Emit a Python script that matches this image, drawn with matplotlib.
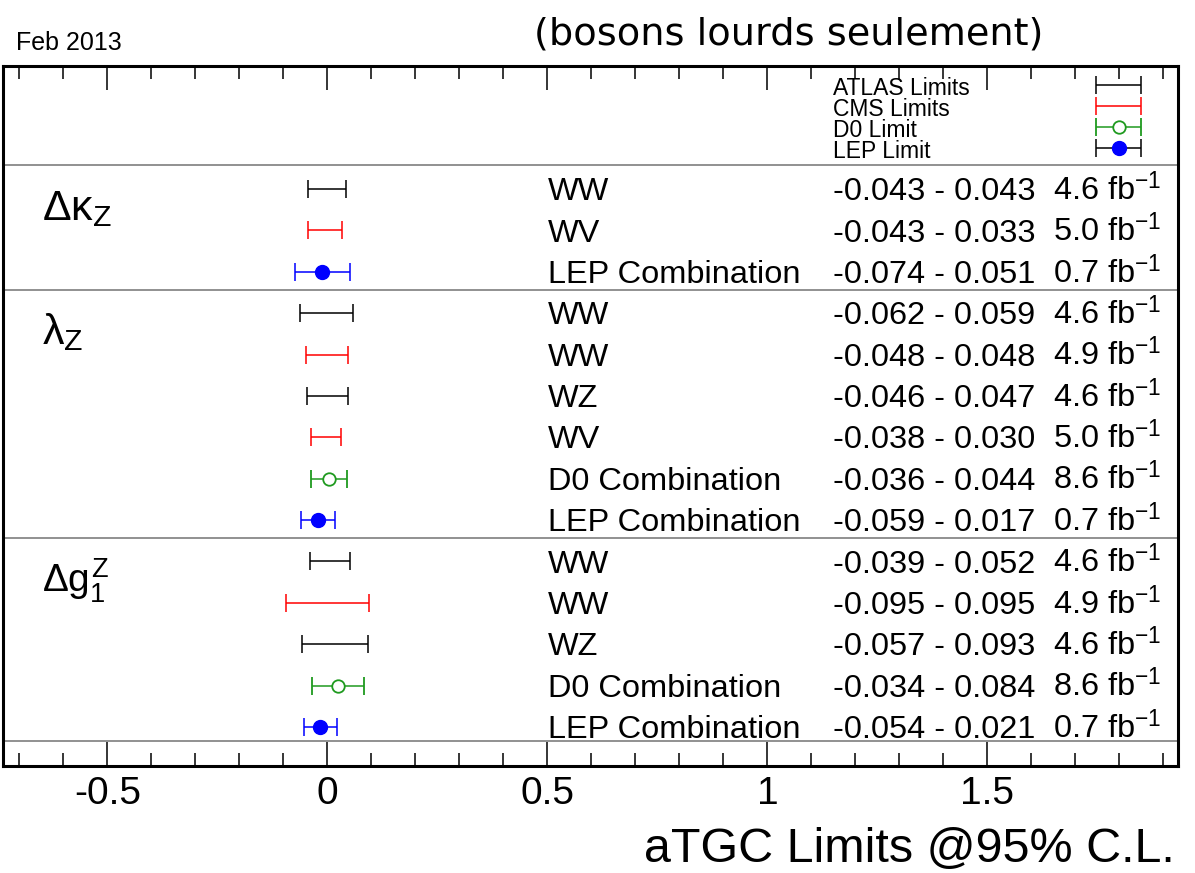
import matplotlib
matplotlib.use('Agg')
import matplotlib.pyplot as plt
from matplotlib.ticker import MultipleLocator, FuncFormatter

plt.rcParams['font.family'] = ['Liberation Sans', 'DejaVu Sans']
plt.rcParams['mathtext.fontset'] = 'custom'
plt.rcParams['mathtext.rm'] = 'Liberation Sans'
plt.rcParams['mathtext.it'] = 'Liberation Sans'
plt.rcParams['mathtext.bf'] = 'Liberation Sans:bold'

# couplings and how many measurements each has
couplings = [r'$\Delta\kappa_{Z}$', r'$\lambda_{Z}$', r'$\Delta g^{Z}_{1}$']
group_sizes = [3, 6, 5]

channels = ['WW', 'WV', 'LEP Combination',
            'WW', 'WW', 'WZ', 'WV', 'D0 Combination', 'LEP Combination',
            'WW', 'WW', 'WZ', 'D0 Combination', 'LEP Combination']
experiments = ['ATLAS', 'CMS', 'LEP',
               'ATLAS', 'CMS', 'ATLAS', 'CMS', 'D0', 'LEP',
               'ATLAS', 'CMS', 'ATLAS', 'D0', 'LEP']
lower = [-0.043, -0.043, -0.074,
         -0.062, -0.048, -0.046, -0.038, -0.036, -0.059,
         -0.039, -0.095, -0.057, -0.034, -0.054]
upper = [0.043, 0.033, 0.051,
         0.059, 0.048, 0.047, 0.030, 0.044, 0.017,
         0.052, 0.095, 0.093, 0.084, 0.021]
lumi = ['4.6', '5.0', '0.7',
        '4.6', '4.9', '4.6', '5.0', '8.6', '0.7',
        '4.6', '4.9', '4.6', '8.6', '0.7']

legend_names = ['ATLAS Limits', 'CMS Limits', 'D0 Limit', 'LEP Limit']
legend_exps = ['ATLAS', 'CMS', 'D0', 'LEP']

green = '#1f9a1f'
styles = {
    'ATLAS': dict(fmt='none', ecolor='black'),
    'CMS': dict(fmt='none', ecolor='#ff0000'),
    'D0': dict(fmt='o', ecolor=green, mec=green, mfc='white', ms=9, mew=1.3),
    'LEP': dict(fmt='o', ecolor='#0000ff', color='#0000ff', ms=10),
}
bar_kw = dict(capsize=6.8, capthick=1.1, elinewidth=1.1)

fig = plt.figure(figsize=(11.95, 8.73), dpi=100)
ax = fig.add_axes([0.0025, 0.1226, 0.9829, 0.8018])
ax.set_xlim(-0.737, 1.932)
ax.set_ylim(13.94, -2.97)

for s in ax.spines.values():
    s.set_linewidth(2.2)

ax.xaxis.set_major_locator(MultipleLocator(0.5))
ax.xaxis.set_minor_locator(MultipleLocator(0.1))
ax.xaxis.set_major_formatter(FuncFormatter(lambda v, p: f'{v:g}'))
ax.tick_params(axis='x', which='both', direction='in', top=True, bottom=True,
               width=1.1, labelsize=28, pad=7)
ax.tick_params(axis='x', which='major', length=17)
ax.tick_params(axis='x', which='minor', length=9.4)
ax.set_yticks([])

# measurements
for i in range(len(channels)):
    lo, hi = lower[i], upper[i]
    mid = (lo + hi) / 2
    ax.errorbar(mid, i, xerr=[[mid - lo], [hi - mid]], zorder=3,
                **styles[experiments[i]], **bar_kw)
    ax.text(0.501, i + 0.27, channels[i], fontsize=23.4, va='baseline')
    ax.text(1.149, i + 0.27, f'{lo:.3f} - {hi:.3f}', fontsize=23.4, va='baseline')
    ax.text(1.649, i + 0.27, lumi[i] + r' fb$^{-1}$', fontsize=23.4, va='baseline')

# separators and coupling names
start = 0
for name, n in zip(couplings, group_sizes):
    ax.axhline(start - 0.57, color='#888888', lw=1.3)
    size = 28 if 'g' in name else 31
    ax.text(-0.649, start + 0.75, name, fontsize=size, va='baseline')
    start += n
ax.axhline(start - 0.67, color='#888888', lw=1.3)

# legend box drawn by hand
for k, (name, exp) in enumerate(zip(legend_names, legend_exps)):
    y = -2.5 + 0.507 * k
    kw = dict(styles[exp])
    if exp == 'LEP':
        kw['ecolor'] = 'black'
    ax.errorbar(1.798, y, xerr=0.0515, zorder=3, **kw, **bar_kw)
    ax.text(1.149, y + 0.22, name, fontsize=16.5, va='baseline')

fig.text(16 / 1195, 1 - 50 / 873, 'Feb 2013', fontsize=18, va='baseline')
fig.text(789 / 1195, 1 - 45 / 873, '(bosons lourds seulement)', fontsize=27.5,
         family='DejaVu Sans', ha='center', va='baseline')
fig.text(1175 / 1195, 1 - 862 / 873, 'aTGC Limits @95% C.L.', fontsize=34.8,
         ha='right', va='baseline')

fig.savefig('out.png', dpi=100)
